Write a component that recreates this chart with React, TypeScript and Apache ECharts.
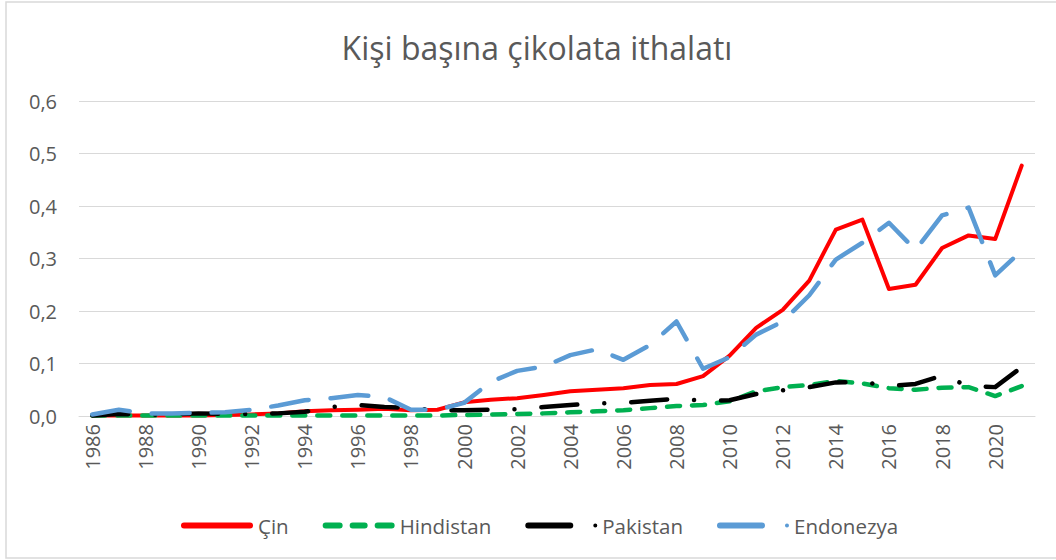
import React, { useEffect, useRef } from "react";
import * as echarts from "echarts";

const years: string[] = [];
for (let y = 1986; y <= 2021; y++) years.push(String(y));

const cin = [0.001, 0.001, 0.001, 0.001, 0.001, 0.002, 0.003, 0.005, 0.009, 0.011, 0.012, 0.014, 0.011, 0.012, 0.026, 0.031, 0.034, 0.04, 0.047, 0.05, 0.053, 0.059, 0.061, 0.076, 0.115, 0.168, 0.202, 0.258, 0.355, 0.374, 0.242, 0.25, 0.32, 0.344, 0.337, 0.477];
const hindistan = [0.001, 0.001, 0.001, 0.001, 0.001, 0.001, 0.001, 0.001, 0.001, 0.001, 0.001, 0.001, 0.001, 0.001, 0.002, 0.003, 0.004, 0.005, 0.007, 0.009, 0.011, 0.015, 0.019, 0.021, 0.028, 0.047, 0.055, 0.059, 0.067, 0.062, 0.053, 0.05, 0.054, 0.055, 0.038, 0.057];
const pakistan = [0.001, 0.004, 0.002, 0.003, 0.005, 0.004, 0.004, 0.005, 0.008, 0.017, 0.021, 0.017, 0.015, 0.011, 0.011, 0.012, 0.013, 0.017, 0.021, 0.024, 0.025, 0.029, 0.033, 0.029, 0.03, 0.042, 0.049, 0.055, 0.064, 0.065, 0.057, 0.061, 0.077, 0.057, 0.055, 0.093];
const endonezya = [0.003, 0.012, 0.005, 0.005, 0.006, 0.007, 0.012, 0.02, 0.03, 0.034, 0.04, 0.036, 0.012, 0.012, 0.025, 0.065, 0.086, 0.094, 0.116, 0.127, 0.107, 0.135, 0.18, 0.09, 0.112, 0.155, 0.18, 0.23, 0.298, 0.33, 0.368, 0.316, 0.382, 0.397, 0.268, 0.315];

const seriesNames = ["Çin", "Hindistan", "Pakistan", "Endonezya"];
const colors = ["#ff0000", "#00b050", "#000000", "#5b9bd5"];

const FONT = "'Open Sans', 'Noto Sans', sans-serif";
const GREY = "#595959";

const iconSolid = "path://M3,0H69A3,3 0 0 1 69,6H3A3,3 0 0 1 3,0Z";
const iconDash3 =
  "path://M3,0H17A3,3 0 0 1 17,6H3A3,3 0 0 1 3,0Z M30,0H42A3,3 0 0 1 42,6H30A3,3 0 0 1 30,0Z M55,0H69A3,3 0 0 1 69,6H55A3,3 0 0 1 55,0Z";
const iconDashDot =
  "path://M3,0H45A3,3 0 0 1 45,6H3A3,3 0 0 1 3,0Z M72,3A2,2 0 1 1 68,3A2,2 0 1 1 72,3Z M0,3Z";

export default function App() {
  const ref = useRef<HTMLDivElement>(null);
  useEffect(() => {
    if (!ref.current) return;
    const chart = echarts.init(ref.current, undefined, { renderer: "svg" });
    const data = [cin, hindistan, pakistan, endonezya];
    const dashes: any[] = ["solid", [13, 12], [36, 27, 0.01, 27], [38, 22]];
    const widths = [4, 4.5, 4.5, 4.5];
    chart.setOption({
      animation: false,
      backgroundColor: "#ffffff",
      title: {
        text: "Kişi başına çikolata ithalatı",
        left: 532,
        textAlign: "center",
        top: 26,
        textStyle: { fontFamily: FONT, fontSize: 32, fontWeight: "normal", color: GREY },
      },
      graphic: [
        {
          type: "rect",
          shape: { x: 6, y: 2, width: 1100, height: 556 },
          style: { fill: "none", stroke: "#d9d9d9", lineWidth: 1.5 },
          silent: true,
        },
      ],
      legend: {
        left: 176,
        top: 510,
        itemWidth: 72,
        itemHeight: 6,
        itemGap: 34,
        textStyle: { fontFamily: FONT, fontSize: 20.5, color: GREY },
        data: [
          { name: "Çin", icon: iconSolid },
          { name: "Hindistan", icon: iconDash3 },
          { name: "Pakistan", icon: iconDashDot },
          { name: "Endonezya", icon: iconDashDot },
        ],
      },
      grid: { left: 79, right: 21, top: 101, bottom: 144 },
      xAxis: {
        type: "category",
        data: years,
        boundaryGap: true,
        axisLine: { lineStyle: { color: "#d9d9d9", width: 1 } },
        axisTick: { show: false },
        axisLabel: {
          interval: 1,
          rotate: 90,
          margin: 8,
          fontFamily: FONT,
          fontSize: 20,
          color: GREY,
        },
      },
      yAxis: {
        type: "value",
        min: 0,
        max: 0.6,
        interval: 0.1,
        axisLine: { show: false },
        axisTick: { show: false },
        splitLine: { lineStyle: { color: "#d9d9d9", width: 1 } },
        axisLabel: {
          margin: 22,
          fontFamily: FONT,
          fontSize: 20,
          color: GREY,
          formatter: (v: number) => v.toFixed(1).replace(".", ","),
        },
      },
      series: seriesNames.map((name, i) => ({
        name,
        type: "line",
        data: data[i],
        color: colors[i],
        symbol: "none",
        smooth: false,
        lineStyle: {
          color: colors[i],
          width: widths[i],
          type: dashes[i],
          cap: "round",
          join: "round",
        },
        itemStyle: { color: colors[i] },
      })),
    });
    return () => chart.dispose();
  }, []);
  return (
    <div
      ref={ref}
      style={{ position: "absolute", left: 0, top: 0, width: 1056, height: 560 }}
    />
  );
}
